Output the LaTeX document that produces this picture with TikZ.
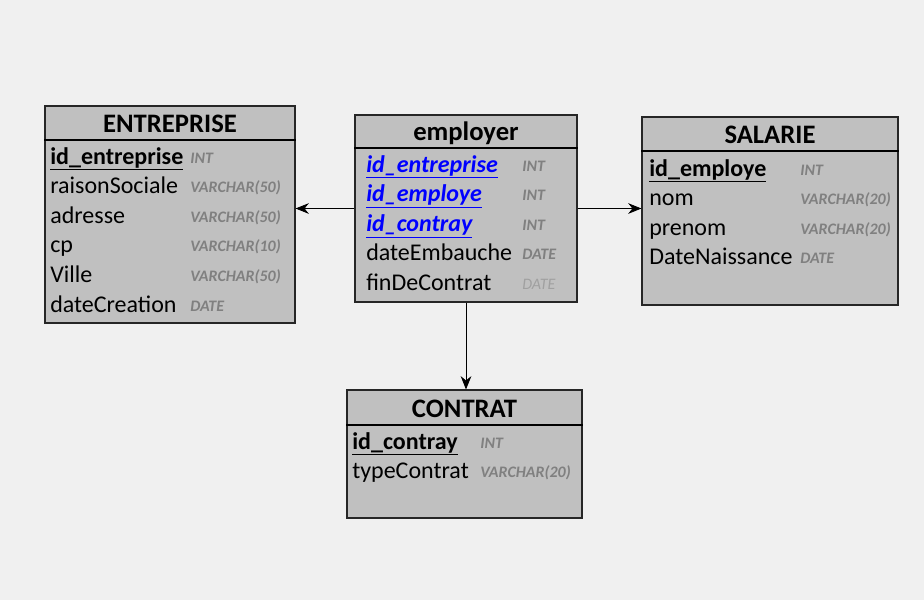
\documentclass[tikz,border=0pt]{standalone}
\usepackage{fontspec}
\setmainfont{Carlito}
\usetikzlibrary{arrows.meta, fit}
\definecolor{bggray}{HTML}{F0F0F0}
\definecolor{tblgray}{HTML}{C0C0C0}
\definecolor{typegray}{HTML}{808080}
\definecolor{fkblue}{HTML}{0000FF}
\tikzset{
  table/.style={draw=black!85, fill=tblgray, rectangle, inner sep=0pt, line width=0.8pt},
  tabletitle/.style={inner sep=0pt, font=\fontsize{20}{24}\selectfont\bfseries},
  field/.style={anchor=base west, inner sep=0pt, font=\fontsize{18}{21}\selectfont},
  ftype/.style={anchor=base west, inner sep=0pt, text=typegray, font=\fontsize{12}{14}\selectfont\bfseries\itshape},
  link/.style={-{Stealth[length=10pt, width=8pt]}, line width=0.6pt}
}
\newcommand{\pkey}[1]{\textbf{\underline{#1}}}
\newcommand{\fkey}[1]{\textcolor{fkblue}{\textbf{\textit{\underline{#1}}}}}
\begin{document}
\begin{tikzpicture}[x=0.75pt, y=-0.75pt]
\fill[bggray] (0,0) rectangle (924,600);
\useasboundingbox (0,0) rectangle (924,600);
\def\dy{29.6}
% ---------- ENTREPRISE ----------
\node[table, fit={(45,106) (295,323)}] (ent) {};
\node[tabletitle] (ent-title) at (170,124) {ENTREPRISE};
\draw[line width=0.8pt] (ent.west |- 0,140) -- (ent.east |- 0,140);
\foreach \f/\t [count=\i] in {\pkey{id\_entreprise}/INT, raisonSociale/VARCHAR(50), adresse/VARCHAR(50), cp/VARCHAR(10), Ville/VARCHAR(50), dateCreation/DATE} {
  \node[field] (ent-f\i) at (50,{164+(\i-1)*\dy}) {\f};
  \node[ftype] (ent-t\i) at (190,{163+(\i-1)*\dy}) {\t};
}
% ---------- employer ----------
\node[table, fit={(355,115) (577,302)}] (emp) {};
\node[tabletitle] (emp-title) at (466,133) {employer};
\draw[line width=0.8pt] (emp.west |- 0,148) -- (emp.east |- 0,148);
\foreach \f/\t [count=\i] in {\fkey{id\_entreprise}/INT, \fkey{id\_employe}/INT, \fkey{id\_contray}/INT, dateEmbauche/DATE} {
  \node[field] (emp-f\i) at (366,{172+(\i-1)*\dy}) {\f};
  \node[ftype] (emp-t\i) at (522,{171+(\i-1)*\dy}) {\t};
}
\node[field] (emp-f5) at (366,{172+4*\dy}) {finDeContrat};
\node[ftype, text=typegray!75, font=\fontsize{12}{14}\selectfont\itshape] (emp-t5) at (522,{171+4*\dy}) {DATE};
% ---------- SALARIE ----------
\node[table, fit={(642,117) (898,305)}] (sal) {};
\node[tabletitle] (sal-title) at (770,135) {SALARIE};
\draw[line width=0.8pt] (sal.west |- 0,151) -- (sal.east |- 0,151);
\foreach \f/\t [count=\i] in {\pkey{id\_employe}/INT, nom/VARCHAR(20), prenom/VARCHAR(20), DateNaissance/DATE} {
  \node[field] (sal-f\i) at (649,{176+(\i-1)*\dy}) {\f};
  \node[ftype] (sal-t\i) at (800,{175+(\i-1)*\dy}) {\t};
}
% ---------- CONTRAT ----------
\node[table, fit={(347,390) (582,518)}] (con) {};
\node[tabletitle] (con-title) at (464.5,409) {CONTRAT};
\draw[line width=0.8pt] (con.west |- 0,425) -- (con.east |- 0,425);
\foreach \f/\t [count=\i] in {\pkey{id\_contray}/INT, typeContrat/VARCHAR(20)} {
  \node[field] (con-f\i) at (352,{449+(\i-1)*\dy}) {\f};
  \node[ftype] (con-t\i) at (480,{448+(\i-1)*\dy}) {\t};
}
% ---------- links ----------
\draw[link] (emp.west) -- (ent.east |- emp.west);
\draw[link] (emp.east) -- (sal.west |- emp.east);
\draw[link] (emp.south) -- (con.north -| emp.south);
\end{tikzpicture}
\end{document}
